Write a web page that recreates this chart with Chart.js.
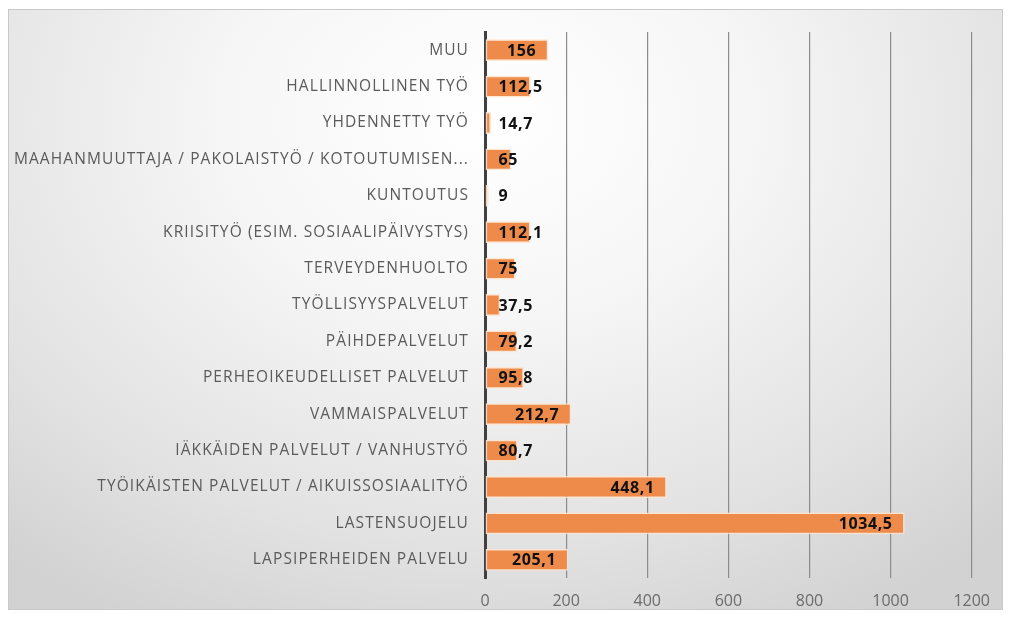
<!DOCTYPE html>
<html>
<head>
<meta charset="utf-8">
<script src="https://cdn.jsdelivr.net/npm/chart.js@4/dist/chart.umd.min.js"></script>
<style>
  body { margin: 0; background: #fff; }
  #frame {
    position: absolute; left: 8px; top: 9px; width: 995px; height: 601px;
    border: 1px solid #c9c9c9; box-sizing: border-box;
    background: radial-gradient(ellipse 75% 95% at 48% 18%, #ffffff 0%, #f6f6f6 35%, #e2e2e2 75%, #d2d2d2 100%);
  }
</style>
</head>
<body>
<div id="frame"><canvas id="chart" width="995" height="601"></canvas></div>
<script>
const categories = [
    "MUU",
    "HALLINNOLLINEN TYÖ",
    "YHDENNETTY TYÖ",
    "MAAHANMUUTTAJA / PAKOLAISTYÖ / KOTOUTUMISEN...",
    "KUNTOUTUS",
    "KRIISITYÖ (ESIM. SOSIAALIPÄIVYSTYS)",
    "TERVEYDENHUOLTO",
    "TYÖLLISYYSPALVELUT",
    "PÄIHDEPALVELUT",
    "PERHEOIKEUDELLISET PALVELUT",
    "VAMMAISPALVELUT",
    "IÄKKÄIDEN PALVELUT / VANHUSTYÖ",
    "TYÖIKÄISTEN PALVELUT / AIKUISSOSIAALITYÖ",
    "LASTENSUOJELU",
    "LAPSIPERHEIDEN PALVELU"
];
const values = [156, 112.5, 14.7, 65, 9, 112.1, 75, 37.5, 79.2, 95.8, 212.7, 80.7, 448.1, 1034.5, 205.1];
const xTicks = [0, 200, 400, 600, 800, 1000, 1200];

// category names drawn by hand so the letter spacing can be widened
const categoryLabels = {
    id: "categoryLabels",
    afterDraw(chart) {
        const ctx = chart.ctx;
        const y = chart.scales.y;
        ctx.save();
        ctx.font = "15.5px 'Open Sans'";
        ctx.letterSpacing = "1.1px";
        ctx.fillStyle = "#5a5a5a";
        ctx.textAlign = "right";
        ctx.textBaseline = "middle";
        chart.data.labels.forEach(function (label, i) {
            ctx.fillText(label, chart.chartArea.left - 16, y.getPixelForValue(i));
        });
        ctx.restore();
    }
};

// values drawn at the bar end, or from the base when the bar is too short
const barLabels = {
    id: "barLabels",
    afterDatasetsDraw(chart) {
        const ctx = chart.ctx;
        const meta = chart.getDatasetMeta(0);
        ctx.save();
        ctx.font = "bold 16px 'Open Sans'";
        ctx.letterSpacing = "0.6px";
        ctx.fillStyle = "#111";
        ctx.textBaseline = "middle";
        ctx.textAlign = "left";
        meta.data.forEach(function (bar, i) {
            const text = String(values[i]).replace(".", ",");
            const w = ctx.measureText(text).width;
            let x = bar.x - 12 - w;
            if (x < bar.base + 13) x = bar.base + 13;
            ctx.fillText(text, x, bar.y + 1);
        });
        ctx.restore();
    }
};

new Chart(document.getElementById("chart"), {
    type: "bar",
    data: {
        labels: categories,
        datasets: [
            {
                data: values,
                backgroundColor: "#EE8A4A",
                borderColor: "rgba(255,228,205,0.9)",
                borderWidth: 1.5,
                borderSkipped: false,
                categoryPercentage: 1,
                barPercentage: 0.6,
            },
        ],
    },
    plugins: [barLabels, categoryLabels],
    options: {
        indexAxis: "y",
        responsive: false,
        animation: false,
        layout: {
            padding: { left: 0, right: 26, top: 22, bottom: 0 },
        },
        plugins: {
            legend: { display: false },
            tooltip: { enabled: false },
        },
        scales: {
            x: {
                min: 0,
                max: 1200,
                afterBuildTicks: function (scale) {
                    scale.ticks = xTicks.map((v) => ({ value: v }));
                },
                afterFit: function (scale) {
                    scale.height = 33;
                },
                grid: {
                    color: function (c) {
                        return c.tick && c.tick.value === 0 ? "rgba(0,0,0,0)" : "#8c8c8c";
                    },
                    lineWidth: 1.2,
                    drawTicks: false,
                },
                border: { display: false },
                ticks: {
                    color: "#6b6b6b",
                    font: { family: "'Open Sans'", size: 16 },
                    padding: 14,
                    callback: function (v) {
                        return String(v);
                    },
                },
            },
            y: {
                afterFit: function (scale) {
                    scale.width = 476;
                },
                grid: { display: false, drawTicks: false },
                border: { display: true, color: "#404040", width: 3 },
                ticks: { display: false },
            },
        },
    },
});
</script>
</body>
</html>
